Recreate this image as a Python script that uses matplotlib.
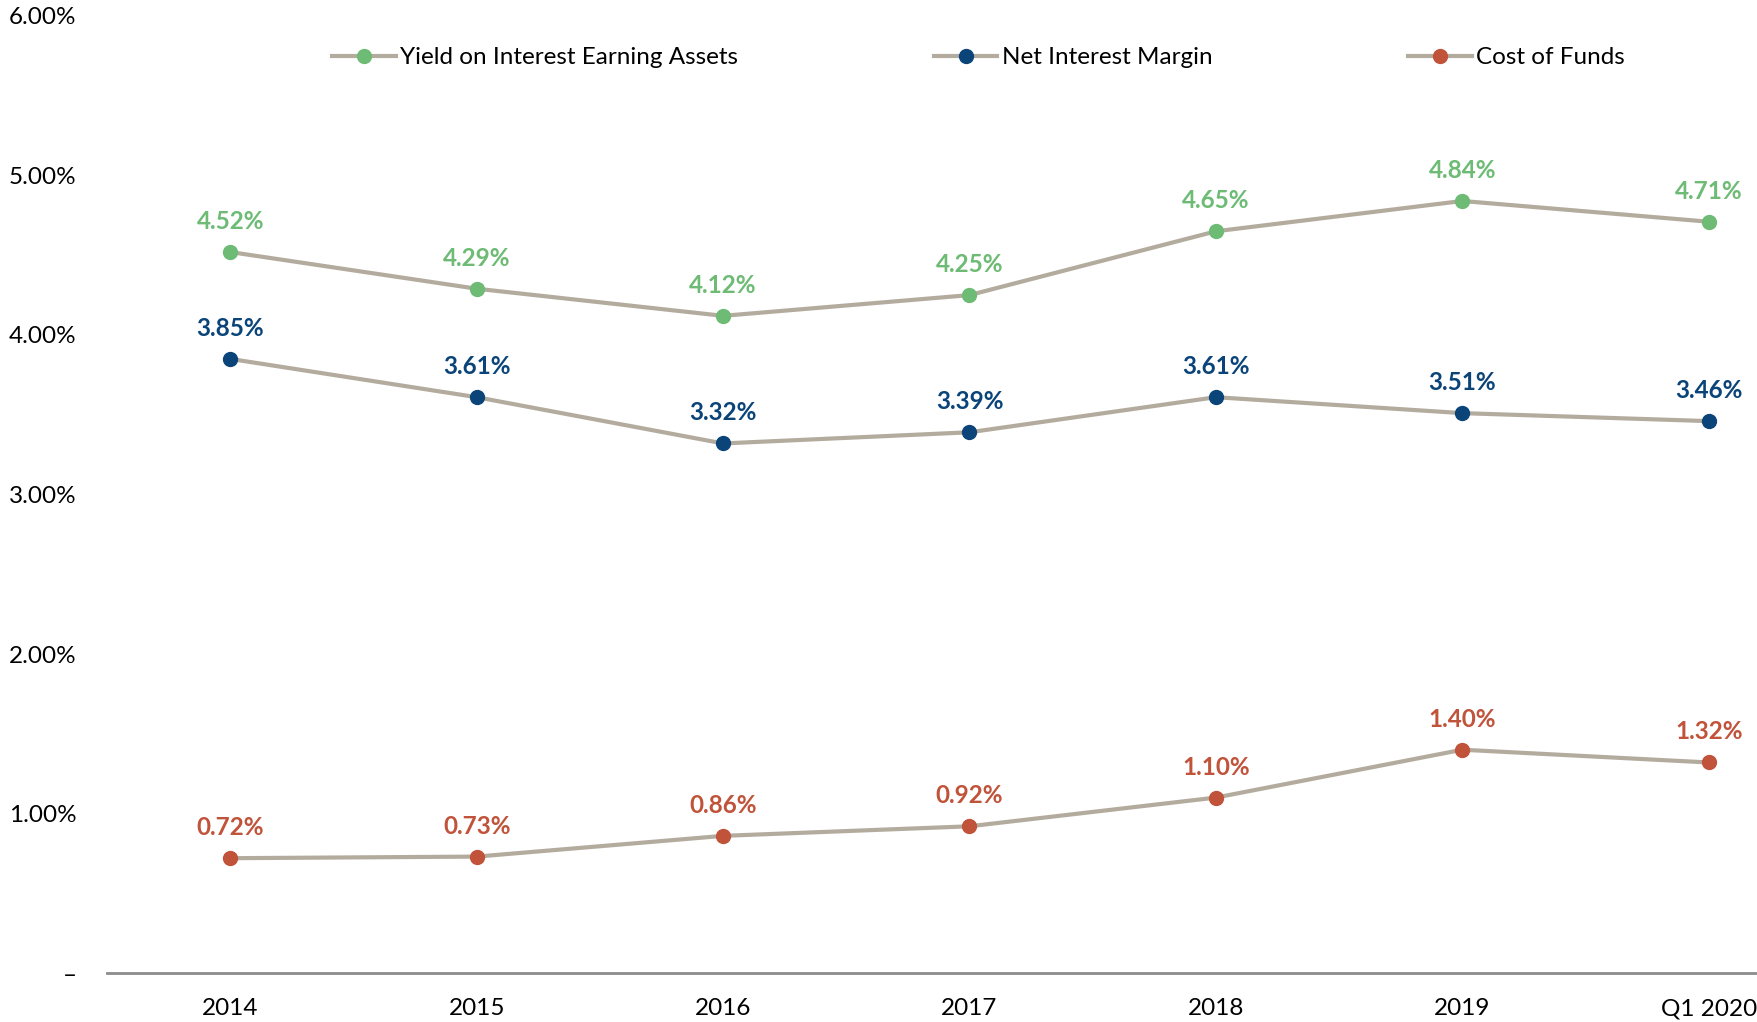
import matplotlib
matplotlib.use('Agg')
import matplotlib.pyplot as plt
from matplotlib.ticker import FuncFormatter

periods = ['2014', '2015', '2016', '2017', '2018', '2019', 'Q1 2020']
yield_assets = [4.52, 4.29, 4.12, 4.25, 4.65, 4.84, 4.71]
net_margin = [3.85, 3.61, 3.32, 3.39, 3.61, 3.51, 3.46]
cost_funds = [0.72, 0.73, 0.86, 0.92, 1.10, 1.40, 1.32]

series = [
    ('Yield on Interest Earning Assets', yield_assets, '#6dbb74'),
    ('Net Interest Margin', net_margin, '#0a4479'),
    ('Cost of Funds', cost_funds, '#c0533a'),
]
line_color = '#b3ac9e'

plt.rcParams['font.family'] = ['Lato', 'DejaVu Sans']

fig = plt.figure(figsize=(17.58, 10.22), dpi=100)
ax = fig.add_axes([0.0609, 0.0479, 0.9391, 0.9365])

x = list(range(len(periods)))
for label, values, color in series:
    ax.plot(x, values, color=line_color, lw=3, marker='o', markersize=10,
            markerfacecolor=color, markeredgecolor=color, label=label)
    for xi, v in zip(x, values):
        ax.annotate(f'{v:.2f}%', (xi, v), xytext=(0, 22), textcoords='offset points',
                    ha='center', va='center', fontsize=17.5, fontweight='bold', color=color)

ax.set_xlim(-0.5, 6.2)
ax.set_ylim(0, 6)
ax.set_yticks([0, 1, 2, 3, 4, 5, 6])
ax.yaxis.set_major_formatter(FuncFormatter(lambda v, p: '–' if v == 0 else f'{v:.2f}%'))
ax.set_xticks(x)
ax.set_xticklabels(periods)
ax.tick_params(axis='y', length=0, pad=22, labelsize=17.5)
ax.tick_params(axis='x', length=0, pad=18, labelsize=17.5)
for s in ['top', 'right', 'left']:
    ax.spines[s].set_visible(False)
ax.spines['bottom'].set_color('#8c8c8c')
ax.spines['bottom'].set_linewidth(2)

ax.legend(loc='upper center', bbox_to_anchor=(0.528, 0.99), ncol=3, frameon=False,
          fontsize=17.5, handlelength=2.6, columnspacing=8.05, handletextpad=0.2)

fig.savefig('out.png', dpi=100)
